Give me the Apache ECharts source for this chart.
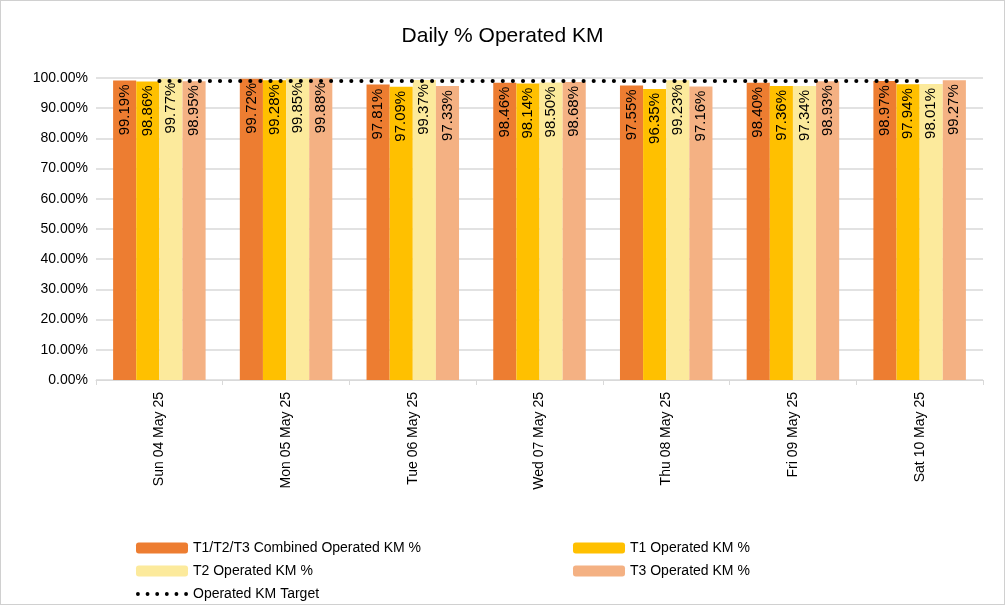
<!DOCTYPE html>
<html><head><meta charset="utf-8">
<script src="https://cdn.jsdelivr.net/npm/echarts@6/dist/echarts.min.js"></script>
<style>html,body{margin:0;padding:0;background:#fff}#c{width:1003px;height:603px;border:1px solid #d0d0d0}</style>
</head><body><div id="c"></div>
<script>
const categories = ['Sun 04 May 25','Mon 05 May 25','Tue 06 May 25','Wed 07 May 25','Thu 08 May 25','Fri 09 May 25','Sat 10 May 25'];
const combined = [99.19,99.72,97.81,98.46,97.55,98.40,98.97];
const t1 = [98.86,99.28,97.09,98.14,96.35,97.36,97.94];
const t2 = [99.77,99.85,99.37,98.50,99.23,97.34,98.01];
const t3 = [98.95,99.88,97.33,98.68,97.16,98.93,99.27];
const target = [99,99,99,99,99,99,99];
const names = ['T1/T2/T3 Combined Operated KM %','T1 Operated KM %','T2 Operated KM %','T3 Operated KM %','Operated KM Target'];
const colors = ['#ED7D31','#FFC000','#FCEA9C','#F4B183'];
const font = 'Liberation Sans';
function bar(name, data, color){
  return {name, type:'bar', data:data.map(v=>v/100), itemStyle:{color}, barGap:'0%', barCategoryGap:'27%',
    label:{show:true, position:'insideTop', rotate:90, align:'right', verticalAlign:'middle', distance:4,
      formatter:p=>(p.value*100).toFixed(2)+'%', color:'#000', fontSize:15, fontFamily:font}};
}
let dots = '';
for (let i=0;i<6;i++){ const x=i*10; dots += `M${x+1},0a2,2 0 1,0 0.01,0z `; }
const chart = echarts.init(document.getElementById('c'));
chart.setOption({
  animation:false,
  textStyle:{fontFamily:font},
  title:{text:'Daily % Operated KM', left:'center', top:20, textStyle:{fontSize:21, fontWeight:'normal', color:'#000', fontFamily:font}},
  grid:{left:95, right:21, top:77, bottom:224},
  xAxis:{type:'category', data:categories, axisTick:{show:true, length:5, lineStyle:{color:'#d9d9d9'}}, axisLine:{lineStyle:{color:'#d9d9d9'}},
    axisLabel:{rotate:90, color:'#000', fontSize:14, margin:12, fontFamily:font}},
  yAxis:{type:'value', min:0, max:1, interval:0.1, axisLine:{show:false},
    splitLine:{lineStyle:{color:'#d9d9d9', width:1.5}},
    axisLabel:{formatter:v=>(v*100).toFixed(2)+'%', color:'#000', fontSize:14, fontFamily:font}},
  legend:[
    {orient:'vertical', left:130, top:535, height:80, width:400, itemGap:9, itemWidth:52, itemHeight:11,
      data:[names[0],names[2],{name:names[4], icon:'path://'+dots, itemStyle:{color:'#000'}}], textStyle:{fontSize:14,color:'#000',fontFamily:font}},
    {orient:'vertical', left:567, top:535, height:80, width:300, itemGap:9, itemWidth:52, itemHeight:11, data:[names[1],names[3]], textStyle:{fontSize:14,color:'#000',fontFamily:font}}
  ],
  series:[
    bar(names[0], combined, colors[0]),
    bar(names[1], t1, colors[1]),
    bar(names[2], t2, colors[2]),
    bar(names[3], t3, colors[3]),
    {name:names[4], type:'line', data:target.map(v=>v/100), symbol:'none', z:10,
      lineStyle:{color:'#000', width:4, type:[0.1,10], cap:'round'}, itemStyle:{color:'#000'}}
  ]
});
</script></body></html>
